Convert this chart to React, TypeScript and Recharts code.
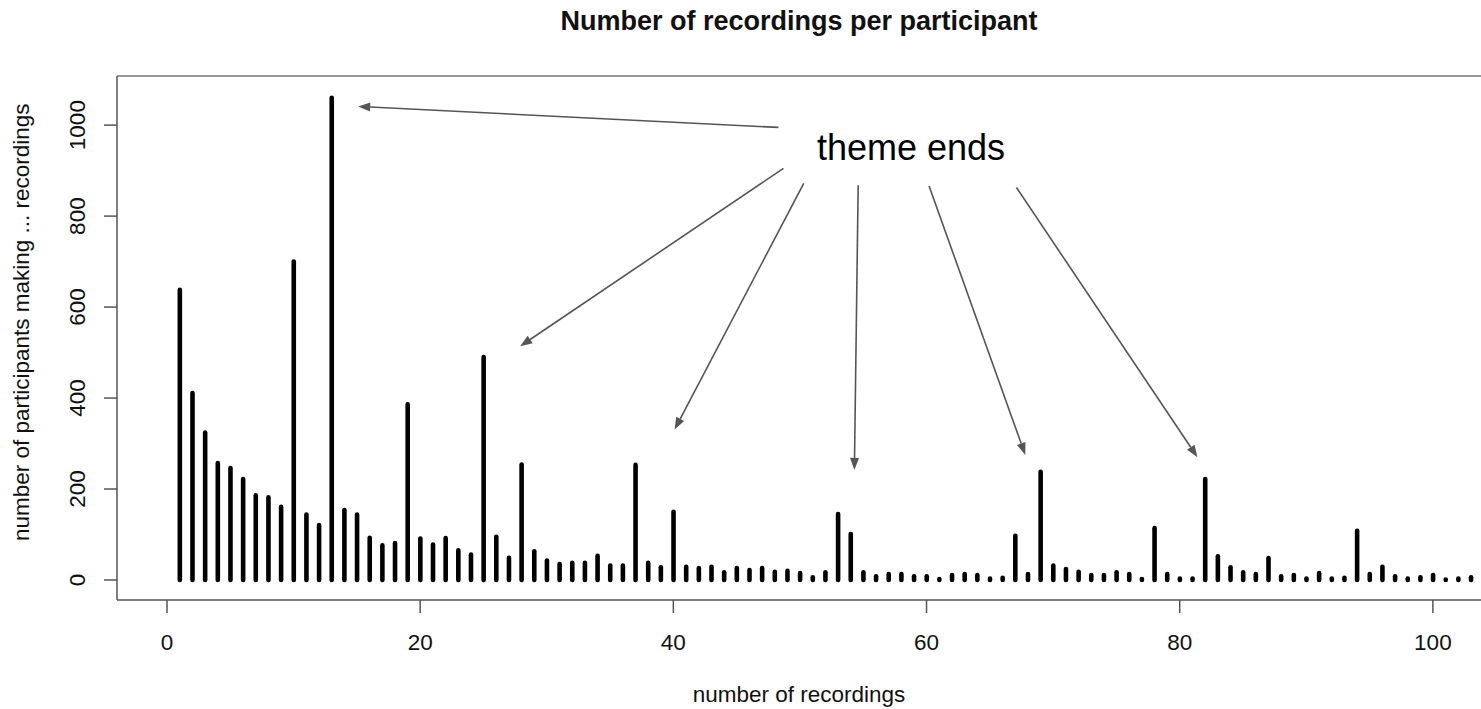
import React from "react";
import { BarChart, Bar, XAxis, YAxis, ReferenceLine } from "recharts";

// number of recordings made (x) and how many participants made that many (y)
const recordings = [
  1, 2, 3, 4, 5, 6, 7, 8, 9, 10, 11, 12, 13, 14, 15, 16, 17, 18, 19, 20,
  21, 22, 23, 24, 25, 26, 27, 28, 29, 30, 31, 32, 33, 34, 35, 36, 37, 38, 39, 40,
  41, 42, 43, 44, 45, 46, 47, 48, 49, 50, 51, 52, 53, 54, 55, 56, 57, 58, 59, 60,
  61, 62, 63, 64, 65, 66, 67, 68, 69, 70, 71, 72, 73, 74, 75, 76, 77, 78, 79, 80,
  81, 82, 83, 84, 85, 86, 87, 88, 89, 90, 91, 92, 93, 94, 95, 96, 97, 98, 99, 100,
  101, 102, 103,
];

const participants = [
  638, 411, 324, 257, 246, 222, 186, 182, 161, 700, 144, 121, 1060, 154, 144, 93, 76, 81, 386, 91,
  78, 92, 65, 56, 490, 95, 49, 254, 63, 43, 35, 38, 38, 53, 32, 32, 253, 38, 28, 150,
  29, 26, 29, 17, 26, 22, 26, 18, 20, 15, 6, 17, 145, 101, 17, 8, 13, 13, 8, 8,
  2, 11, 13, 11, 3, 5, 97, 13, 238, 32, 24, 18, 11, 11, 17, 13, 2, 114, 13, 3,
  3, 222, 52, 28, 17, 13, 48, 8, 11, 3, 15, 3, 5, 108, 13, 29, 8, 3, 6, 11,
  1, 3, 6,
];

const xTicks = [0, 20, 40, 60, 80, 100];
const yTicks = [0, 200, 400, 600, 800, 1000];

// arrows from the "theme ends" note to the bars, in data units
const arrowStarts = [
  [48.3, 995], [48.7, 905], [50.3, 872], [54.6, 868], [60.2, 866], [67.1, 863],
];
const arrowEnds = [
  [15.1, 1041], [27.9, 514], [40.1, 331], [54.3, 242], [67.8, 275], [81.4, 270],
];

const X_MIN = -3.95;
const X_MAX = 103.8;
const Y_MIN = -44;
const Y_MAX = 1108;

const FONT = "'Liberation Sans', Arial, Helvetica, sans-serif";

const data = recordings.map((n, i) => ({ n, count: participants[i] }));

const Stick = (props: any) => {
  const { x, y, width, height } = props;
  const cx = x + width / 2;
  return (
    <line
      x1={cx}
      x2={cx}
      y1={y}
      y2={y + height}
      stroke="#000"
      strokeWidth={4.6}
      strokeLinecap="round"
    />
  );
};

const YTick = (props: any) => {
  const { x, y, payload } = props;
  return (
    <text
      x={x}
      y={y}
      transform={`rotate(-90 ${x} ${y})`}
      textAnchor="middle"
      fontSize={22.5}
      fill="#111"
      fontFamily={FONT}
    >
      {payload.value}
    </text>
  );
};

const Arrow = (props: any) => {
  const { x1, y1, x2, y2 } = props;
  const ang = Math.atan2(y2 - y1, x2 - x1);
  const len = 12;
  const half = 4.5;
  const bx = x2 - len * Math.cos(ang);
  const by = y2 - len * Math.sin(ang);
  const px = -Math.sin(ang) * half;
  const py = Math.cos(ang) * half;
  return (
    <g>
      <line x1={x1} y1={y1} x2={bx} y2={by} stroke="#555" strokeWidth={1.6} />
      <polygon
        points={`${x2},${y2} ${bx + px},${by + py} ${bx - px},${by - py}`}
        fill="#555"
      />
    </g>
  );
};

export default function App() {
  return (
    <div
      style={{
        position: "absolute",
        left: 0,
        top: 0,
        width: 1481,
        height: 709,
        background: "#fff",
        fontFamily: FONT,
      }}
    >
      <BarChart
        width={1481}
        height={709}
        data={data}
        margin={{ top: 76, right: 0, bottom: 0, left: 0 }}
      >
        <XAxis
          type="number"
          dataKey="n"
          domain={[X_MIN, X_MAX]}
          allowDataOverflow
          ticks={xTicks}
          interval={0}
          height={109}
          tickSize={13}
          tickMargin={21}
          stroke="#555"
          strokeWidth={1.5}
          tick={{ fontSize: 22.5, fill: "#111", fontFamily: FONT }}
        />
        <YAxis
          type="number"
          domain={[Y_MIN, Y_MAX]}
          allowDataOverflow
          ticks={yTicks}
          interval={0}
          width={117}
          tickSize={13}
          tickMargin={19}
          stroke="#555"
          strokeWidth={1.5}
          tick={<YTick />}
        />
        <ReferenceLine y={Y_MAX} stroke="#999" strokeWidth={2} ifOverflow="visible" />
        <Bar
          dataKey="count"
          barSize={5}
          shape={<Stick />}
          isAnimationActive={false}
        />
        {arrowStarts.map((s, i) => (
          <ReferenceLine
            key={i}
            segment={[
              { x: s[0], y: s[1] },
              { x: arrowEnds[i][0], y: arrowEnds[i][1] },
            ]}
            shape={<Arrow />}
            ifOverflow="visible"
          />
        ))}
      </BarChart>

      <div
        style={{
          position: "absolute",
          left: 117,
          width: 1364,
          top: 8,
          textAlign: "center",
          fontSize: 27,
          lineHeight: "27px",
          fontWeight: "bold",
          color: "#111",
        }}
      >
        Number of recordings per participant
      </div>
      <div
        style={{
          position: "absolute",
          left: 117,
          width: 1364,
          top: 684,
          textAlign: "center",
          fontSize: 22.5,
          lineHeight: "22.5px",
          color: "#111",
        }}
      >
        number of recordings
      </div>
      <div
        style={{
          position: "absolute",
          left: 22 - 300,
          top: 322 - 11,
          width: 600,
          textAlign: "center",
          fontSize: 22.5,
          lineHeight: "22.5px",
          color: "#111",
          transform: "rotate(-90deg)",
          transformOrigin: "50% 50%",
        }}
      >
        number of participants making ... recordings
      </div>
      <div
        style={{
          position: "absolute",
          left: 817,
          top: 130,
          fontSize: 36,
          lineHeight: "36px",
          color: "#000",
        }}
      >
        theme ends
      </div>
    </div>
  );
}
